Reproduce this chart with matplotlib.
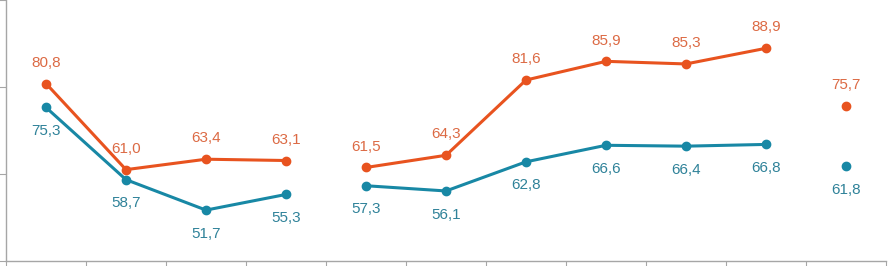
import matplotlib.pyplot as plt
import numpy as np

# 11 categories, gap after the 4th, last one standalone
categories = list(range(11))
orange_vals = [80.8, 61.0, 63.4, 63.1, 61.5, 64.3, 81.6, 85.9, 85.3, 88.9, 75.7]
teal_vals = [75.3, 58.7, 51.7, 55.3, 57.3, 56.1, 62.8, 66.6, 66.4, 66.8, 61.8]
segments = [(0, 4), (4, 10), (10, 11)]

orange = '#E8531F'
teal = '#1888A5'
orange_txt = '#DC6A44'
teal_txt = '#2F8299'

plt.rcParams['font.family'] = ['Liberation Sans', 'DejaVu Sans']

fig = plt.figure(figsize=(8.88, 2.66), dpi=100)
ax = fig.add_axes([6 / 888, 5 / 266, 880 / 888, 261 / 266])

x = np.array(categories)
for a, b in segments:
    ax.plot(x[a:b], orange_vals[a:b], color=orange, lw=2.2, marker='o', markersize=6,
            solid_capstyle='round', zorder=3)
    ax.plot(x[a:b], teal_vals[a:b], color=teal, lw=2.2, marker='o', markersize=6,
            solid_capstyle='round', zorder=3)

for xi, v in zip(x, orange_vals):
    ax.annotate(f'{v:.1f}'.replace('.', ','), (xi, v), xytext=(0, 15), textcoords='offset points',
                ha='center', va='center', fontsize=11, color=orange_txt)
for xi, v in zip(x, teal_vals):
    ax.annotate(f'{v:.1f}'.replace('.', ','), (xi, v), xytext=(0, -17), textcoords='offset points',
                ha='center', va='center', fontsize=11, color=teal_txt)

ax.set_xlim(-0.5, 10.5)
ax.set_ylim(40, 100)
ax.set_xticks(np.arange(-0.5, 11, 1))
ax.set_yticks([40, 60, 80, 100])
ax.tick_params(axis='both', direction='out', length=5, color='#A6A6A6',
               labelleft=False, labelbottom=False)
for s in ['top', 'right']:
    ax.spines[s].set_visible(False)
for s in ['left', 'bottom']:
    ax.spines[s].set_color('#A6A6A6')
    ax.spines[s].set_linewidth(1)

fig.savefig('out.png', dpi=100)
